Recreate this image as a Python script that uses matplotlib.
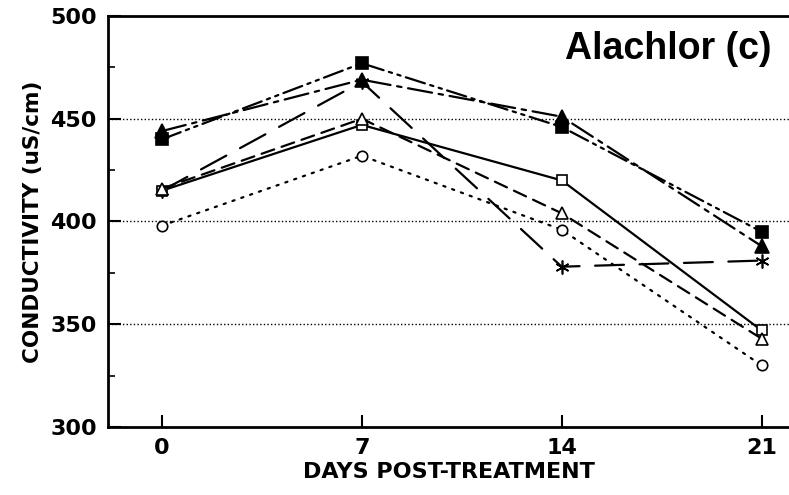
import matplotlib
matplotlib.use("Agg")
import matplotlib.pyplot as plt
from matplotlib.ticker import MultipleLocator

days = [0, 7, 14, 21]

# conductivity (uS/cm) for each treatment
filled_square = [440, 477, 446, 395]
filled_triangle = [444, 469, 451, 388]
asterisk = [415, 468, 378, 381]
open_square = [415, 447, 420, 347]
open_triangle = [416, 450, 404, 343]
open_circle = [398, 432, 396, 330]

y_ticks = [300, 350, 400, 450, 500]
x_ticks = [0, 7, 14, 21]

fig = plt.figure(figsize=(7.89, 4.95), dpi=100)
ax = fig.add_axes([108 / 789, (495 - 427) / 495, (789 - 108) / 789, 411 / 495])

lw = 1.6
series = [
    (filled_square, "s", "black", (0, (9, 2.5, 1.5, 2.5, 1.5, 2.5)), 8.5),
    (filled_triangle, "^", "black", (0, (11, 3, 2, 3)), 9.5),
    (asterisk, (6, 2, 0), "black", (0, (13, 7)), 10),
    (open_square, "s", "none", "-", 7),
    (open_triangle, "^", "none", (0, (6, 3.5)), 8),
    (open_circle, "o", "none", (0, (1, 3.2)), 7.5),
]
for vals, mk, fc, ls, ms in series:
    ax.plot(days, vals, color="black", linestyle=ls, linewidth=lw,
            marker=mk, markersize=ms, markerfacecolor=fc if fc != "none" else "white",
            markeredgecolor="black", markeredgewidth=1.2,
            dash_capstyle="round", zorder=3)

ax.set_xlim(-1.89, 21.96)
ax.set_ylim(300, 500)
ax.set_xticks(x_ticks)
ax.set_yticks(y_ticks)
ax.yaxis.set_minor_locator(MultipleLocator(25))

for y in [350, 400, 450]:
    ax.axhline(y, color="black", linestyle=(0, (1, 1.6)), linewidth=1.0, zorder=1)

for side in ["left", "bottom", "top"]:
    ax.spines[side].set_linewidth(2.0)
ax.spines["right"].set_visible(False)

ax.tick_params(axis="both", which="major", direction="in", length=9, width=1.5,
               top=False, right=False, pad=8)
ax.tick_params(axis="y", which="minor", direction="in", length=5, width=1.2)
ax.tick_params(axis="x", which="minor", bottom=False)

for lab in ax.get_yticklabels() + ax.get_xticklabels():
    lab.set_fontfamily("DejaVu Sans")
    lab.set_fontweight("bold")
    lab.set_fontsize(16)

ax.set_xlabel("DAYS POST-TREATMENT", fontsize=16, fontweight="bold",
              family="DejaVu Sans", labelpad=3)
ax.set_ylabel("CONDUCTIVITY (uS/cm)", fontsize=15.5, fontweight="bold",
              family="DejaVu Sans", labelpad=5)

ax.text(0.975, 0.92, "Alachlor (c)", transform=ax.transAxes, ha="right", va="center",
        fontsize=27, fontweight="bold", family="Liberation Sans")

fig.savefig("out.png", dpi=100)
